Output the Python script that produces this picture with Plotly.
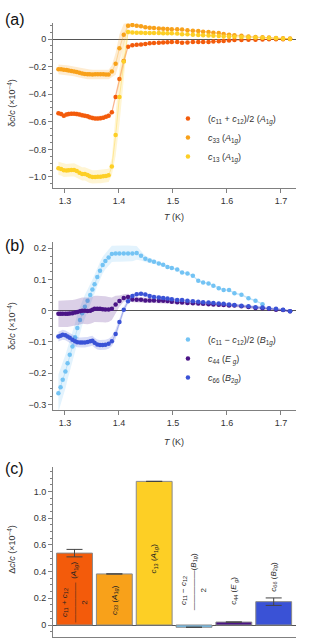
import plotly.graph_objects as go

# ---------------- Panel (a) data ----------------
T_a = [1.288, 1.293, 1.298, 1.303, 1.307, 1.312, 1.317, 1.322, 1.327, 1.332,
       1.337, 1.342, 1.346, 1.351, 1.356, 1.361, 1.366, 1.371, 1.376, 1.381,
       1.387, 1.394, 1.401, 1.409, 1.417, 1.425, 1.433, 1.441, 1.449, 1.457,
       1.465, 1.474, 1.482, 1.490, 1.498, 1.508, 1.517, 1.527, 1.537, 1.547,
       1.556, 1.566, 1.575, 1.585, 1.594, 1.604, 1.614, 1.627, 1.640, 1.653,
       1.666, 1.678, 1.691, 1.704, 1.717]

a_sym = [-0.539, -0.543, -0.556, -0.548, -0.543, -0.541, -0.541, -0.543, -0.548, -0.553,
         -0.556, -0.560, -0.568, -0.572, -0.577, -0.577, -0.575, -0.570, -0.563, -0.556,
         -0.531, -0.420, -0.290, -0.160, -0.056, -0.046, -0.041, -0.039, -0.036, -0.031,
         -0.029, -0.027, -0.025, -0.024, -0.022, -0.022, -0.027, -0.026, -0.022, -0.022,
         -0.022, -0.022, -0.019, -0.017, -0.014, -0.010, -0.007, -0.007, -0.005, -0.005,
         -0.004, -0.002, -0.002, -0.001, 0.000]
e_sym = [0.018, 0.018, 0.018, 0.018, 0.018, 0.018, 0.018, 0.018, 0.018, 0.018,
         0.018, 0.018, 0.018, 0.018, 0.018, 0.018, 0.018, 0.018, 0.018, 0.018,
         0.020, 0.030, 0.040, 0.035, 0.012, 0.010, 0.009, 0.009, 0.008, 0.008,
         0.008, 0.007, 0.007, 0.007, 0.006, 0.006, 0.006, 0.006, 0.006, 0.005,
         0.005, 0.005, 0.005, 0.005, 0.005, 0.004, 0.004, 0.004, 0.004, 0.004,
         0.003, 0.003, 0.003, 0.003, 0.003]

a_c33 = [-0.220, -0.220, -0.222, -0.225, -0.228, -0.232, -0.235, -0.240, -0.245, -0.250,
         -0.253, -0.256, -0.256, -0.257, -0.256, -0.255, -0.255, -0.256, -0.257, -0.257,
         -0.235, -0.180, -0.067, 0.030, 0.096, 0.101, 0.096, 0.092, 0.085, 0.082,
         0.080, 0.077, 0.075, 0.072, 0.071, 0.070, 0.068, 0.063, 0.060, 0.058,
         0.053, 0.051, 0.046, 0.043, 0.036, 0.031, 0.027, 0.024, 0.019, 0.014,
         0.012, 0.010, 0.007, 0.005, 0.003]
e_c33 = [0.035, 0.035, 0.035, 0.035, 0.035, 0.035, 0.035, 0.035, 0.035, 0.035,
         0.035, 0.035, 0.035, 0.035, 0.035, 0.035, 0.035, 0.035, 0.035, 0.035,
         0.045, 0.080, 0.100, 0.080, 0.020, 0.012, 0.011, 0.010, 0.010, 0.009,
         0.009, 0.008, 0.008, 0.008, 0.007, 0.007, 0.007, 0.007, 0.006, 0.006,
         0.006, 0.006, 0.005, 0.005, 0.005, 0.005, 0.005, 0.004, 0.004, 0.004,
         0.004, 0.004, 0.003, 0.003, 0.003]

a_c13 = [-0.937, -0.942, -0.952, -0.954, -0.952, -0.949, -0.949, -0.957, -0.969, -0.978,
         -0.978, -0.986, -0.995, -1.000, -1.000, -0.998, -0.998, -0.995, -0.993, -0.988,
         -0.925, -0.696, -0.420, -0.164, 0.050, 0.048, 0.046, 0.045, 0.044, 0.044,
         0.043, 0.043, 0.042, 0.042, 0.041, 0.039, 0.034, 0.034, 0.031, 0.029,
         0.027, 0.026, 0.024, 0.022, 0.019, 0.019, 0.017, 0.014, 0.012, 0.010,
         0.009, 0.007, 0.005, 0.002, 0.000]
e_c13 = [0.048, 0.048, 0.048, 0.048, 0.048, 0.048, 0.048, 0.048, 0.048, 0.048,
         0.048, 0.048, 0.048, 0.048, 0.048, 0.048, 0.048, 0.048, 0.048, 0.048,
         0.060, 0.150, 0.200, 0.150, 0.020, 0.012, 0.011, 0.010, 0.010, 0.009,
         0.009, 0.008, 0.008, 0.008, 0.007, 0.007, 0.007, 0.007, 0.006, 0.006,
         0.006, 0.006, 0.005, 0.005, 0.005, 0.005, 0.005, 0.004, 0.004, 0.004,
         0.004, 0.004, 0.003, 0.003, 0.003]

# ---------------- Panel (b) data ----------------
T_b = [1.288, 1.292, 1.296, 1.301, 1.305, 1.309, 1.314, 1.319, 1.323, 1.328,
       1.332, 1.337, 1.342, 1.347, 1.351, 1.355, 1.360, 1.365, 1.370, 1.375,
       1.381, 1.387, 1.394, 1.401, 1.409, 1.417, 1.425, 1.433, 1.441, 1.449,
       1.457, 1.465, 1.474, 1.482, 1.490, 1.498, 1.508, 1.517, 1.527, 1.537,
       1.547, 1.556, 1.566, 1.575, 1.585, 1.594, 1.604, 1.614, 1.627, 1.640,
       1.653, 1.666, 1.678, 1.691, 1.704, 1.717]

b_b1g = [-0.264, -0.245, -0.221, -0.195, -0.168, -0.141, -0.115, -0.085, -0.055, -0.030,
         -0.008, 0.013, 0.032, 0.050, 0.068, 0.085, 0.108, 0.128, 0.146, 0.159,
         0.170, 0.182, 0.183, 0.183, 0.183, 0.183, 0.183, 0.185, 0.176, 0.166,
         0.161, 0.157, 0.151, 0.147, 0.140, 0.137, 0.132, 0.122, 0.119, 0.112,
         0.096, 0.090, 0.087, 0.080, 0.072, 0.066, 0.066, 0.056, 0.051, 0.040,
         0.032, 0.021, None, None, None, None]
e_b1g = [0.060, 0.058, 0.056, 0.054, 0.052, 0.050, 0.048, 0.046, 0.044, 0.042,
         0.040, 0.038, 0.036, 0.034, 0.032, 0.030, 0.029, 0.028, 0.027, 0.026,
         0.026, 0.026, 0.026, 0.026, 0.026, 0.026, 0.025, 0.022, 0.015, 0.010,
         0.008, 0.006, 0.005, 0.004, 0.004, 0.003, 0.003, 0.003, 0.003, 0.003,
         0.003, 0.003, 0.003, 0.003, 0.003, 0.003, 0.003, 0.003, 0.003, 0.003,
         0.003, 0.003, None, None, None, None]

b_c44 = [-0.010, -0.010, -0.010, -0.010, -0.010, -0.009, -0.008, -0.006, -0.004, -0.002,
         0.000, 0.000, -0.001, 0.000, 0.003, 0.006, 0.006, 0.006, 0.005, 0.004,
         0.004, 0.006, 0.020, 0.031, 0.041, 0.044, 0.036, 0.035, 0.035, 0.033,
         0.033, 0.033, 0.032, 0.032, 0.031, 0.029, 0.027, 0.026, 0.025, 0.024,
         0.023, 0.022, 0.021, 0.020, 0.019, 0.018, 0.017, 0.017, 0.014, 0.012,
         0.009, 0.008, 0.006, 0.003, 0.002, -0.002]
e_c44 = [0.042, 0.042, 0.042, 0.042, 0.042, 0.042, 0.042, 0.042, 0.042, 0.042,
         0.042, 0.042, 0.042, 0.042, 0.042, 0.042, 0.042, 0.042, 0.042, 0.042,
         0.040, 0.036, 0.028, 0.018, 0.012, 0.010, 0.009, 0.009, 0.008, 0.008,
         0.008, 0.008, 0.007, 0.007, 0.007, 0.007, 0.006, 0.006, 0.006, 0.006,
         0.006, 0.005, 0.005, 0.005, 0.005, 0.005, 0.005, 0.005, 0.004, 0.004,
         0.004, 0.004, 0.004, 0.004, 0.004, 0.004]

b_c66 = [-0.083, -0.080, -0.077, -0.079, -0.083, -0.087, -0.093, -0.098, -0.101, -0.102,
         -0.102, -0.102, -0.100, -0.098, -0.096, -0.103, -0.108, -0.110, -0.110, -0.109,
         -0.106, -0.098, -0.075, -0.036, 0.003, 0.030, 0.047, 0.053, 0.054, 0.052,
         0.047, 0.044, 0.042, 0.041, 0.039, 0.037, 0.034, 0.034, 0.032, 0.030,
         0.029, 0.027, 0.026, 0.025, 0.023, 0.022, 0.020, 0.018, 0.016, 0.014,
         0.011, 0.010, 0.008, 0.006, 0.003, -0.002]
e_c66 = [0.016, 0.016, 0.016, 0.016, 0.016, 0.016, 0.016, 0.016, 0.016, 0.016,
         0.016, 0.016, 0.016, 0.016, 0.016, 0.016, 0.016, 0.016, 0.016, 0.016,
         0.016, 0.016, 0.016, 0.014, 0.010, 0.008, 0.007, 0.007, 0.006, 0.006,
         0.006, 0.006, 0.005, 0.005, 0.005, 0.005, 0.005, 0.005, 0.004, 0.004,
         0.004, 0.004, 0.004, 0.004, 0.004, 0.004, 0.004, 0.004, 0.004, 0.004,
         0.004, 0.004, 0.004, 0.004, 0.004, 0.004]

# ---------------- Panel (c) data ----------------
bar_names = ["(c11+c12)/2", "c33", "c13", "(c11-c12)/2", "c44", "c66"]
bar_values = [0.539, 0.383, 1.077, -0.017, 0.022, 0.175]
bar_errors = [0.028, 0.0, 0.0, 0.0, 0.0, 0.028]

# ---------------- Styling ----------------
COL = {
    "sym": "#F35B0B", "c33": "#F8A11A", "c13": "#FDCF25",
    "b1g": "#73C3F4", "c44": "#4A1486", "c66": "#3A52D6",
}
FONT = "Liberation Sans, Arial, Helvetica, sans-serif"
AXIS_COL = "#808080"
TXT_COL = "#333333"


def rgba(hexc, a):
    h = hexc.lstrip("#")
    r, g, b = int(h[0:2], 16), int(h[2:4], 16), int(h[4:6], 16)
    return f"rgba({r},{g},{b},{a})"


fig = go.Figure()


def add_series(T, v, e, color, name, xa, ya, legend):
    pts = [(t, y, d) for t, y, d in zip(T, v, e) if y is not None]
    ts = [p[0] for p in pts]
    ys = [p[1] for p in pts]
    up = [p[1] + p[2] for p in pts]
    lo = [p[1] - p[2] for p in pts]
    fig.add_trace(go.Scatter(x=ts + ts[::-1], y=up + lo[::-1], fill="toself",
                             fillcolor=rgba(color, 0.2), line=dict(width=0),
                             mode="lines", hoverinfo="skip", showlegend=False,
                             xaxis=xa, yaxis=ya))
    fig.add_trace(go.Scatter(x=ts, y=ys, mode="lines",
                             line=dict(color=rgba(color, 0.35), width=1),
                             showlegend=False, hoverinfo="skip", xaxis=xa, yaxis=ya))
    fig.add_trace(go.Scatter(x=ts, y=ys, mode="markers", name=name,
                             marker=dict(color=color, size=4.5, line=dict(width=0)),
                             xaxis=xa, yaxis=ya, legend=legend))


add_series(T_a, a_sym, e_sym, COL["sym"],
           "(<i>c</i><sub>11</sub> + <i>c</i><sub>12</sub>)/2 (<i>A</i><sub>1<i>g</i></sub>)",
           "x", "y", "legend")
add_series(T_a, a_c33, e_c33, COL["c33"],
           "<i>c</i><sub>33</sub> (<i>A</i><sub>1<i>g</i></sub>)", "x", "y", "legend")
add_series(T_a, a_c13, e_c13, COL["c13"],
           "<i>c</i><sub>13</sub> (<i>A</i><sub>1<i>g</i></sub>)", "x", "y", "legend")

add_series(T_b, b_b1g, e_b1g, COL["b1g"],
           "(<i>c</i><sub>11</sub> − <i>c</i><sub>12</sub>)/2 (<i>B</i><sub>1<i>g</i></sub>)",
           "x2", "y2", "legend2")
add_series(T_b, b_c44, e_c44, COL["c44"],
           "<i>c</i><sub>44</sub> (<i>E</i><sub> <i>g</i></sub>)", "x2", "y2", "legend2")
add_series(T_b, b_c66, e_c66, COL["c66"],
           "<i>c</i><sub>66</sub> (<i>B</i><sub>2<i>g</i></sub>)", "x2", "y2", "legend2")

bar_colors = [COL["sym"], COL["c33"], COL["c13"], COL["b1g"], COL["c44"], COL["c66"]]
fig.add_trace(go.Bar(x=bar_names, y=bar_values, width=0.9,
                     marker=dict(color=bar_colors, line=dict(color="#8a8a8a", width=1)),
                     error_y=dict(type="data", array=bar_errors, color="#444444",
                                  thickness=1, width=8),
                     showlegend=False, xaxis="x3", yaxis="y3"))

# ---------------- Layout ----------------
tickfont = dict(family=FONT, size=9, color=TXT_COL)


def yax(domain, rng, tv, tt, minor_dt):
    return dict(domain=domain, range=rng, tickmode="array", tickvals=tv, ticktext=tt,
                ticks="outside", ticklen=4, tickcolor=AXIS_COL, tickwidth=1,
                showline=True, linecolor=AXIS_COL, linewidth=1, showgrid=False,
                zeroline=True, zerolinecolor="#555555", zerolinewidth=1,
                tickfont=tickfont, automargin=False,
                minor=dict(tickmode="linear", tick0=0, dtick=minor_dt, ticks="outside",
                           ticklen=2, tickcolor=AXIS_COL, showgrid=False))


def xax(anchor):
    return dict(domain=[0, 1], range=[1.278, 1.728], anchor=anchor, tickmode="array",
                tickvals=[1.3, 1.4, 1.5, 1.6, 1.7],
                ticktext=["1.3", "1.4", "1.5", "1.6", "1.7"],
                ticks="outside", ticklen=4, tickcolor=AXIS_COL, showline=True,
                linecolor=AXIS_COL, linewidth=1, showgrid=False, zeroline=False,
                tickfont=tickfont, automargin=False)


fig.update_layout(
    width=327, height=643,
    margin=dict(l=53, r=31, t=23, b=6),
    paper_bgcolor="white", plot_bgcolor="white",
    font=dict(family=FONT, color=TXT_COL, size=9),
    xaxis=xax("y"),
    yaxis=yax([0.7313, 1.0], [-1.08, 0.116], [0, -0.2, -0.4, -0.6, -0.8, -1.0],
              ["0", "−0.2", "−0.4", "−0.6", "−0.8", "−1.0"], 0.05),
    xaxis2=xax("y2"),
    yaxis2=yax([0.3697, 0.6433], [-0.318, 0.22], [0.2, 0.1, 0, -0.1, -0.2, -0.3],
               ["0.2", "0.1", "0", "−0.1", "−0.2", "−0.3"], 0.025),
    xaxis3=dict(domain=[0, 1], anchor="y3", range=[-0.54, 5.56], showticklabels=False,
                ticks="", showline=True, linecolor=AXIS_COL, linewidth=1,
                showgrid=False, zeroline=False, automargin=False),
    yaxis3=yax([0.0, 0.2769], [-0.09, 1.185], [0, 0.2, 0.4, 0.6, 0.8, 1.0],
               ["0", "0.2", "0.4", "0.6", "0.8", "1.0"], 0.05),
    legend=dict(x=0.473, y=0.868, xanchor="left", yanchor="top",
                font=dict(family=FONT, size=9, color=TXT_COL),
                bgcolor="rgba(0,0,0,0)", tracegroupgap=0, itemwidth=30),
    legend2=dict(x=0.473, y=0.508, xanchor="left", yanchor="top",
                 font=dict(family=FONT, size=9, color=TXT_COL),
                 bgcolor="rgba(0,0,0,0)", tracegroupgap=0, itemwidth=30),
    bargap=0.1,
)

ann = []
# panel letters
for lbl, y in [("(a)", 1.0065), ("(b)", 0.638), ("(c)", 0.275)]:
    ann.append(dict(text=lbl, x=-0.158, y=y, xref="paper", yref="paper",
                    showarrow=False, font=dict(family=FONT, size=16, color="#111111"),
                    xanchor="center", yanchor="middle"))
# y titles
for txt, y in [("δ<i>c</i>/<i>c</i> (×10<sup>−4</sup>)", 0.8697),
               ("δ<i>c</i>/<i>c</i> (×10<sup>−4</sup>)", 0.5065),
               ("Δ<i>c</i>/<i>c</i> (×10<sup>−4</sup>)", 0.1417)]:
    ann.append(dict(text=txt, x=-0.17, y=y, xref="paper", yref="paper", textangle=-90,
                    showarrow=False, font=dict(family=FONT, size=9, color=TXT_COL),
                    xanchor="center", yanchor="middle"))
# x titles
for y in [0.684, 0.3176]:
    ann.append(dict(text="<i>T</i> (K)", x=0.498, y=y, xref="paper", yref="paper",
                    showarrow=False, font=dict(family=FONT, size=9, color=TXT_COL),
                    xanchor="center", yanchor="middle"))

# bar labels (rotated)
lab_font = dict(family=FONT, size=8, color="#222222")
bar_labels = [
    (bar_names[0], 0.165, "<i>c</i><sub>11</sub> + <i>c</i><sub>12</sub><br>―――――<br>2"),
    (bar_names[0], 0.41, "(<i>A</i><sub>1<i>g</i></sub>)"),
    (bar_names[1], 0.19, "<i>c</i><sub>33</sub> (<i>A</i><sub>1<i>g</i></sub>)"),
    (bar_names[2], 0.50, "<i>c</i><sub>13</sub> (<i>A</i><sub>1<i>g</i></sub>)"),
    (bar_names[3], 0.26, "<i>c</i><sub>11</sub> − <i>c</i><sub>12</sub><br>―――――<br>2"),
    (bar_names[3], 0.47, "(<i>B</i><sub>1<i>g</i></sub>)"),
    (bar_names[4], 0.255, "<i>c</i><sub>44</sub> (<i>E</i><sub> <i>g</i></sub>)"),
    (bar_names[5], 0.36, "<i>c</i><sub>66</sub> (<i>B</i><sub>2<i>g</i></sub>)"),
]
for xc, yv, txt in bar_labels:
    ann.append(dict(text=txt, x=xc, y=yv, xref="x3", yref="y3", textangle=-90,
                    showarrow=False, font=lab_font, xanchor="center", yanchor="middle"))

fig.update_layout(annotations=ann)
# remove the browser's default 8 px body margin so the figure fills the window exactly
fig.write_html("out.html",
               config={"displayModeBar": False},
               post_script="document.body.style.margin='0px';document.body.style.overflow='hidden';")
